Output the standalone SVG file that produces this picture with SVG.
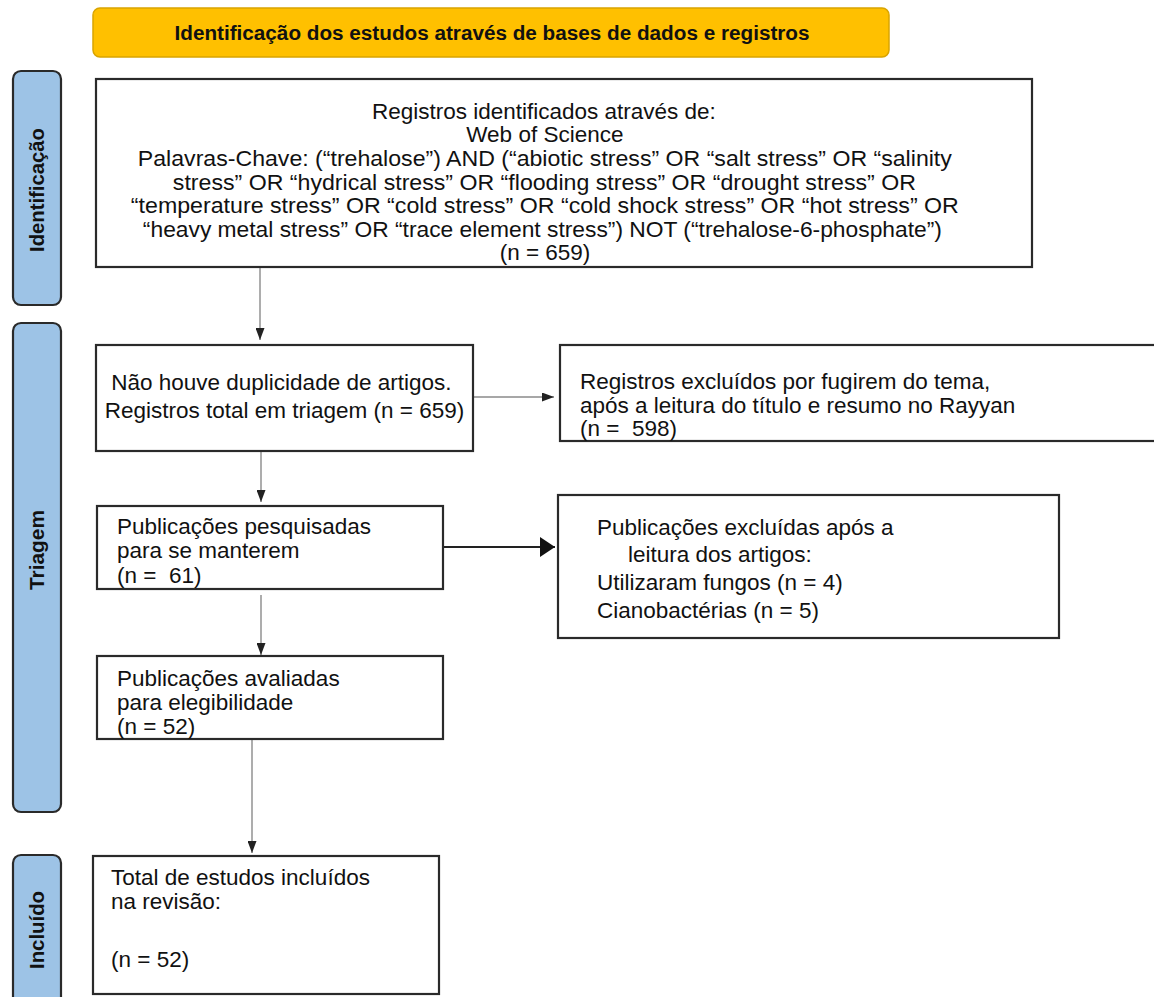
<svg xmlns="http://www.w3.org/2000/svg" width="1154" height="997" viewBox="0 0 1154 997">
<style>
.box{fill:#fff;stroke:#2a2a2a;stroke-width:2.2}
.side{fill:#9DC3E6;stroke:#2a2a2a;stroke-width:2.2}
.t{font-family:"Liberation Sans",Arial,sans-serif;font-size:22.5px;fill:#111}
.b{font-family:"Liberation Sans",Arial,sans-serif;font-weight:bold;fill:#111}
.ln{stroke:#8a8a8a;stroke-width:1.4;fill:none}
.thk{stroke:#222;stroke-width:2;fill:none}
</style>
<defs>
<marker id="ah" markerUnits="userSpaceOnUse" markerWidth="13" markerHeight="9" refX="12" refY="4.5" orient="auto">
<path d="M0,0 L12,4.5 L0,9 z" fill="#222"/>
</marker>
<marker id="ahb" markerUnits="userSpaceOnUse" markerWidth="16" markerHeight="20" refX="15" refY="10" orient="auto">
<path d="M0,0 L15,10 L0,20 z" fill="#111"/>
</marker>
</defs>
<rect width="1154" height="997" fill="#fff"/>

<g id="banner">
<rect x="93" y="8" width="796" height="49" rx="7" fill="#FFC000" stroke="#D9A400" stroke-width="1.5"/>
<text class="b" x="492" y="39.5" font-size="20" text-anchor="middle" textLength="635" lengthAdjust="spacingAndGlyphs">Identificação dos estudos através de bases de dados e registros</text>
</g>

<g id="lane-identificacao">
<rect class="side" x="13" y="71" width="48" height="234" rx="8"/>
<text class="b" font-size="19.5" text-anchor="middle" transform="translate(44,190) rotate(-90)" textLength="124" lengthAdjust="spacingAndGlyphs">Identificação</text>
</g>
<g id="lane-triagem">
<rect class="side" x="13" y="323" width="48" height="489" rx="8"/>
<text class="b" font-size="19.5" text-anchor="middle" transform="translate(44,550) rotate(-90)" textLength="80" lengthAdjust="spacingAndGlyphs">Triagem</text>
</g>
<g id="lane-incluido">
<rect class="side" x="13" y="855" width="48" height="160" rx="8"/>
<text class="b" font-size="19.5" text-anchor="middle" transform="translate(44,930) rotate(-90)" textLength="78" lengthAdjust="spacingAndGlyphs">Incluído</text>
</g>

<g id="connectors">
<line class="ln" x1="260" y1="268" x2="260" y2="340" marker-end="url(#ah)"/>
<line class="ln" x1="473" y1="397" x2="554" y2="397" marker-end="url(#ah)"/>
<line class="ln" x1="261" y1="452" x2="261" y2="502" marker-end="url(#ah)"/>
<line class="thk" x1="443" y1="547" x2="555" y2="547" marker-end="url(#ahb)"/>
<line class="ln" x1="261" y1="595" x2="261" y2="655" marker-end="url(#ah)"/>
<line class="ln" x1="252" y1="740" x2="252" y2="853" marker-end="url(#ah)"/>
</g>

<g id="registros-identificados">
<rect class="box" x="96" y="79" width="936" height="188"/>
<text class="t" text-anchor="middle">
<tspan x="547" y="119">Registros identificados através de:</tspan>
<tspan x="548" y="142">Web of Science</tspan>
<tspan x="548" y="166" textLength="814" lengthAdjust="spacingAndGlyphs">Palavras-Chave: (“trehalose”) AND (“abiotic stress” OR “salt stress” OR “salinity</tspan>
<tspan x="547.5" y="190" textLength="743" lengthAdjust="spacingAndGlyphs">stress” OR “hydrical stress” OR “flooding stress” OR “drought stress” OR</tspan>
<tspan x="548" y="213" textLength="828" lengthAdjust="spacingAndGlyphs">“temperature stress” OR “cold stress” OR “cold shock stress” OR “hot stress” OR</tspan>
<tspan x="545.5" y="237" textLength="799" lengthAdjust="spacingAndGlyphs">“heavy metal stress” OR “trace element stress”) NOT (“trehalose-6-phosphate”)</tspan>
<tspan x="545" y="260">(n = 659)</tspan>
</text>
</g>

<g id="triagem-total">
<rect class="box" x="96" y="345" width="377" height="106"/>
<text class="t" text-anchor="middle">
<tspan x="284.5" y="390">Não houve duplicidade de artigos.</tspan>
<tspan x="284.5" y="418">Registros total em triagem (n = 659)</tspan>
</text>
</g>

<g id="registros-excluidos">
<rect class="box" x="560" y="345" width="610" height="96"/>
<text class="t">
<tspan x="580" y="389">Registros excluídos por fugirem do tema,</tspan>
<tspan x="580" y="413">após a leitura do título e resumo no Rayyan</tspan>
<tspan x="580" y="436">(n =&#160; 598)</tspan>
</text>
</g>

<g id="publicacoes-pesquisadas">
<rect class="box" x="97" y="506" width="346" height="83"/>
<text class="t">
<tspan x="117" y="534">Publicações pesquisadas</tspan>
<tspan x="117" y="558">para se manterem</tspan>
<tspan x="117" y="583">(n =&#160; 61)</tspan>
</text>
</g>

<g id="publicacoes-excluidas">
<rect class="box" x="558" y="495" width="501" height="143"/>
<text class="t">
<tspan x="597" y="535">Publicações excluídas após a</tspan>
<tspan x="628" y="562">leitura dos artigos:</tspan>
<tspan x="597" y="590">Utilizaram fungos (n = 4)</tspan>
<tspan x="597" y="618">Cianobactérias (n = 5)</tspan>
</text>
</g>

<g id="publicacoes-avaliadas">
<rect class="box" x="97" y="656" width="346" height="83"/>
<text class="t">
<tspan x="117" y="686">Publicações avaliadas</tspan>
<tspan x="117" y="710">para elegibilidade</tspan>
<tspan x="117" y="734">(n = 52)</tspan>
</text>
</g>

<g id="estudos-incluidos">
<rect class="box" x="93" y="856" width="346" height="138"/>
<text class="t">
<tspan x="111" y="885">Total de estudos incluídos</tspan>
<tspan x="111" y="909">na revisão:</tspan>
<tspan x="111" y="967">(n = 52)</tspan>
</text>
</g>
</svg>
